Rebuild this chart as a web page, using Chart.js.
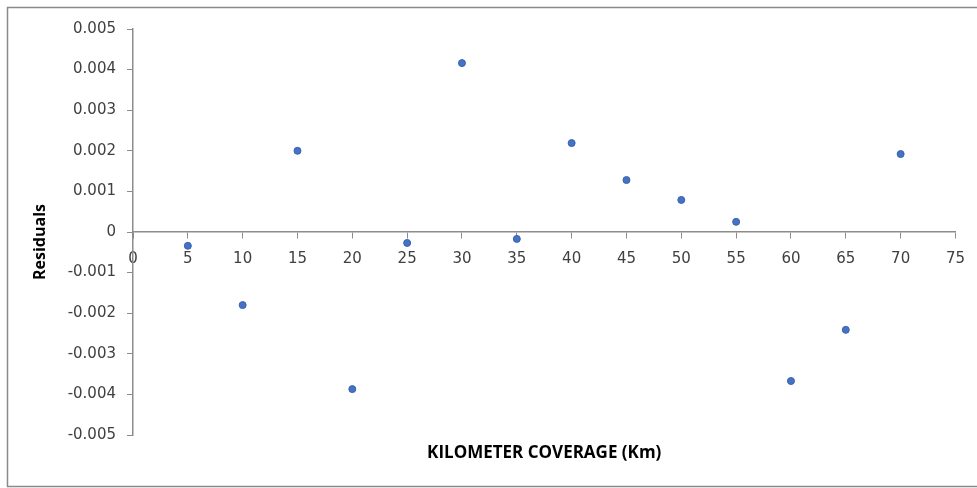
<!DOCTYPE html>
<html>
<head>
<meta charset="utf-8">
<script src="https://cdn.jsdelivr.net/npm/chart.js@4.4.0/dist/chart.umd.min.js"></script>
<style>
  html, body { margin: 0; padding: 0; background: #fff; }
  #wrap { width: 977px; height: 488px; position: relative; }
</style>
</head>
<body>
<div id="wrap"><canvas id="chart" width="977" height="488"></canvas></div>
<script>
// --- Dados ---
const kmValues = [5, 10, 15, 20, 25, 30, 35, 40, 45, 50, 55, 60, 65, 70];
const residuals = [-0.00034, -0.0018, 0.0020, -0.00387, -0.00027, 0.00416, -0.00017,
                   0.00219, 0.00128, 0.00079, 0.00025, -0.00367, -0.00241, 0.00192];
const xTicks = [0, 5, 10, 15, 20, 25, 30, 35, 40, 45, 50, 55, 60, 65, 70, 75];
const yTicks = [0.005, 0.004, 0.003, 0.002, 0.001, 0, -0.001, -0.002, -0.003, -0.004, -0.005];

const axisColor = '#8c8c8c';
const textColor = '#404040';
const tickFont = "'DejaVu Sans', sans-serif";
const titleFont = "'Open Sans', 'Liberation Sans', sans-serif";

// moldura externa + títulos dos eixos
const framePlugin = {
    id: 'frame',
    afterDraw(chart) {
        const c = chart.ctx;
        const area = chart.chartArea;
        c.save();
        c.strokeStyle = '#8a8a8a';
        c.lineWidth = 1.5;
        c.strokeRect(7.5, 7.5, 990, 479);

        c.fillStyle = '#000';
        c.font = "bold 17px " + titleFont;
        c.textAlign = 'center';
        c.textBaseline = 'middle';
        c.fillText('KILOMETER COVERAGE (Km)', (area.left + area.right) / 2, 453);

        c.translate(40, 242);
        c.rotate(-Math.PI / 2);
        c.font = "bold 16px " + titleFont;
        c.fillText('Residuals', 0, 0);
        c.restore();
    }
};

const ctx = document.getElementById('chart').getContext('2d');
new Chart(ctx, {
    type: 'scatter',
    data: {
        datasets: [{
            label: 'Residuals',
            data: kmValues.map((x, i) => ({ x: x, y: residuals[i] })),
            backgroundColor: '#4472C4',
            borderColor: '#3a62ad',
            borderWidth: 1,
            pointRadius: 3.5
        }]
    },
    options: {
        responsive: false,
        animation: false,
        layout: { padding: { top: 29, bottom: 53, left: 20, right: 18 } },
        plugins: { legend: { display: false }, tooltip: { enabled: false } },
        scales: {
            x: {
                type: 'linear',
                position: { y: 0 },
                min: 0, max: 75,
                afterBuildTicks: (axis) => { axis.ticks = xTicks.map(v => ({ value: v })); },
                grid: { display: true, drawOnChartArea: false, drawTicks: true, tickLength: 6, tickColor: axisColor },
                border: { color: axisColor, width: 1.5 },
                ticks: { color: textColor, font: { family: tickFont, size: 15 }, padding: 12, maxRotation: 0, autoSkip: false }
            },
            y: {
                min: -0.005, max: 0.005,
                afterBuildTicks: (axis) => { axis.ticks = yTicks.map(v => ({ value: v })); },
                afterFit: (axis) => { axis.width = 113; },
                grid: { display: true, drawOnChartArea: false, drawTicks: true, tickLength: 6, tickColor: axisColor },
                border: { color: axisColor, width: 1.5 },
                ticks: {
                    color: textColor, font: { family: tickFont, size: 15 }, padding: 11,
                    callback: (v) => v === 0 ? '0' : v.toFixed(3)
                }
            }
        }
    },
    plugins: [framePlugin]
});
</script>
</body>
</html>
